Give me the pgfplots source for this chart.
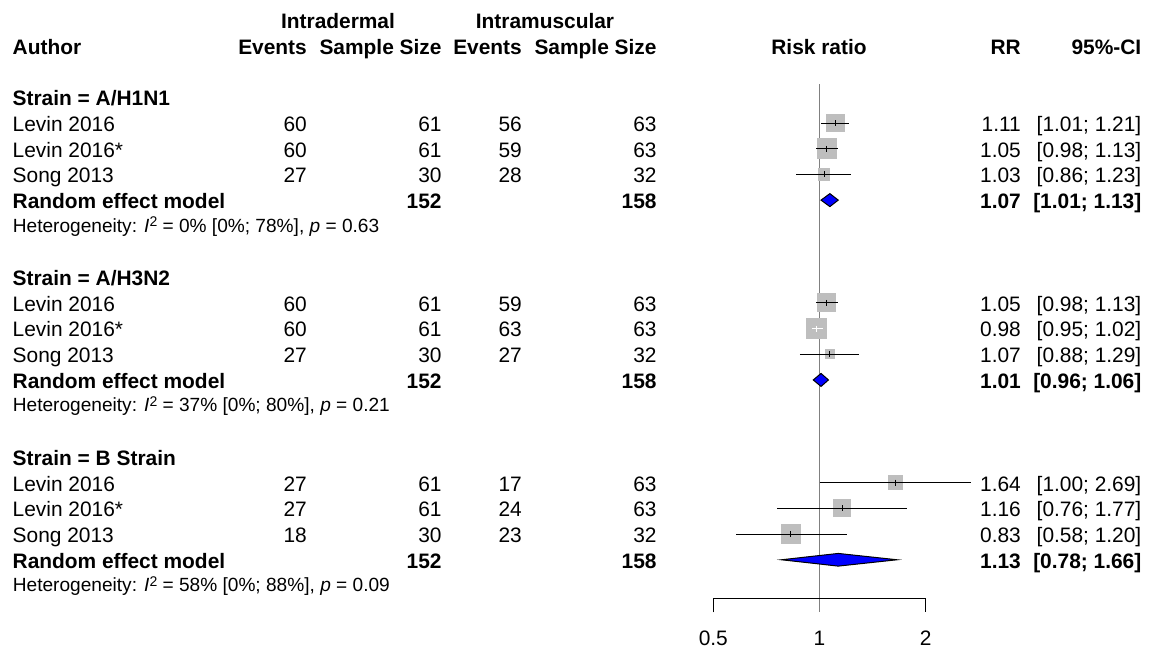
\documentclass[border=0pt]{standalone}
\usepackage{fontspec}
\setmainfont{Liberation Sans}
\usepackage{pgfplots}
\pgfplotsset{compat=1.18}
\definecolor{sqgray}{RGB}{190,190,190}
\definecolor{refgray}{RGB}{128,128,128}
\definecolor{dblue}{RGB}{0,0,255}
\newcommand\mf{\fontsize{20.9}{24}\selectfont}
\newcommand\hf{\fontsize{19.1}{22}\selectfont}
\newcommand\rb[1]{{-(54.3+25.69*(#1))*1pt}}
\newcommand\hb[1]{{-(52.2+25.69*(#1))*1pt}}
\newcommand\study[8]{%
 \node[L] at (12.5pt,\rb{#1}) {#2};
 \node[R] at (307pt,\rb{#1}) {#3};
 \node[R] at (441.7pt,\rb{#1}) {#4};
 \node[R] at (522pt,\rb{#1}) {#5};
 \node[R] at (656.7pt,\rb{#1}) {#6};
 \node[R] at (1021pt,\rb{#1}) {#7};
 \node[R] at (1141.5pt,\rb{#1}) {#8};}
\newcommand\rem[3]{%
 \node[L,font=\mf\bfseries] at (12.5pt,\rb{#1}) {Random effect model};
 \node[R,font=\mf\bfseries] at (441.7pt,\rb{#1}) {152};
 \node[R,font=\mf\bfseries] at (656.7pt,\rb{#1}) {158};
 \node[R,font=\mf\bfseries] at (1021pt,\rb{#1}) {#2};
 \node[R,font=\mf\bfseries] at (1141.5pt,\rb{#1}) {#3};}
\begin{document}
\begin{tikzpicture}[
 L/.style={inner sep=0pt, font=\mf, anchor=base west},
 R/.style={inner sep=0pt, font=\mf, anchor=base east},
 C/.style={inner sep=0pt, font=\mf, anchor=base},
 sq/.style={only marks, mark=square*, mark options={draw=sqgray, fill=sqgray, line width=0pt}},
 ci/.style={no markers, black, line width=1pt},
 ciw/.style={no markers, white, line width=1pt},
 dia/.style={no markers, draw=black, fill=dblue, line width=1pt, line join=miter}
]
\useasboundingbox (0pt,0pt) rectangle (1151pt,-650pt);
\begin{axis}[at={(713.3pt,-598.3pt)}, anchor=south west, scale only axis,
  width=212.4pt, height=514.3pt, xmode=log, xmin=0.5, xmax=2,
  ymin=-21.5, ymax=-1.48, hide axis, clip=false, clip marker paths=true]
% reference line at RR = 1
\addplot[no markers, refgray, line width=1.4pt] coordinates {(1,-1.48) (1,-22.045)};
% x axis with ticks at 0.5 and 2
\addplot[no markers, black, line width=1pt] coordinates {(0.5,-22.045) (0.5,-21.5) (2,-21.5) (2,-22.045)};
% ---- A/H1N1 ----
\addplot[sq, mark size=8.7pt] coordinates {(1.11,-3)};
\addplot[ci] coordinates {(1.01,-3) (1.21,-3)};
\addplot[ci] coordinates {(1.11,-2.885) (1.11,-3.115)};
\addplot[sq, mark size=9.85pt] coordinates {(1.05,-4)};
\addplot[ci] coordinates {(0.98,-4) (1.13,-4)};
\addplot[ci] coordinates {(1.05,-3.885) (1.05,-4.115)};
\addplot[sq, mark size=5.85pt] coordinates {(1.03,-5)};
\addplot[ci] coordinates {(0.86,-5) (1.23,-5)};
\addplot[ci] coordinates {(1.03,-4.885) (1.03,-5.115)};
\addplot[dia] coordinates {(1.01,-6) (1.07,-5.747) (1.13,-6) (1.07,-6.253)} -- cycle;
% ---- A/H3N2 ----
\addplot[sq, mark size=9pt] coordinates {(1.05,-10)};
\addplot[ci] coordinates {(0.98,-10) (1.13,-10)};
\addplot[ci] coordinates {(1.05,-9.885) (1.05,-10.115)};
\addplot[sq, mark size=10.35pt] coordinates {(0.98,-11)};
\addplot[ciw] coordinates {(0.95,-11) (1.02,-11)};
\addplot[ciw] coordinates {(0.98,-10.885) (0.98,-11.115)};
\addplot[sq, mark size=4.5pt] coordinates {(1.07,-12)};
\addplot[ci] coordinates {(0.88,-12) (1.29,-12)};
\addplot[ci] coordinates {(1.07,-11.885) (1.07,-12.115)};
\addplot[dia] coordinates {(0.96,-13) (1.01,-12.747) (1.06,-13) (1.01,-13.253)} -- cycle;
% ---- B Strain ----
\addplot[sq, mark size=7.15pt] coordinates {(1.64,-17)};
\addplot[ci] coordinates {(1.00,-17) (2.69,-17)};
\addplot[ci] coordinates {(1.64,-16.885) (1.64,-17.115)};
\addplot[sq, mark size=8.5pt] coordinates {(1.16,-18)};
\addplot[ci] coordinates {(0.76,-18) (1.77,-18)};
\addplot[ci] coordinates {(1.16,-17.885) (1.16,-18.115)};
\addplot[sq, mark size=9.35pt] coordinates {(0.83,-19)};
\addplot[ci] coordinates {(0.58,-19) (1.20,-19)};
\addplot[ci] coordinates {(0.83,-18.885) (0.83,-19.115)};
\addplot[dia] coordinates {(0.78,-20) (1.13,-19.753) (1.66,-20) (1.13,-20.247)} -- cycle;
% tick labels
\node[C] at (axis cs:0.5,-23.32) {0.5};
\node[C] at (axis cs:1,-23.32) {1};
\node[C] at (axis cs:2,-23.32) {2};
\end{axis}
% ---- header ----
\node[C,font=\mf\bfseries] at (338pt,\rb{-1}) {Intradermal};
\node[C,font=\mf\bfseries] at (545pt,\rb{-1}) {Intramuscular};
\node[L,font=\mf\bfseries] at (12.5pt,\rb{0}) {Author};
\node[R,font=\mf\bfseries] at (307pt,\rb{0}) {Events};
\node[R,font=\mf\bfseries] at (441.7pt,\rb{0}) {Sample Size};
\node[R,font=\mf\bfseries] at (522pt,\rb{0}) {Events};
\node[R,font=\mf\bfseries] at (656.7pt,\rb{0}) {Sample Size};
\node[C,font=\mf\bfseries] at (819pt,\rb{0}) {Risk ratio};
\node[R,font=\mf\bfseries] at (1021pt,\rb{0}) {RR};
\node[R,font=\mf\bfseries] at (1141.5pt,\rb{0}) {95\%-CI};
% ---- A/H1N1 ----
\node[L,font=\mf\bfseries] at (12.5pt,\rb{2}) {Strain = A/H1N1};
\study{3}{Levin 2016}{60}{61}{56}{63}{1.11}{[1.01; 1.21]}
\study{4}{Levin 2016*}{60}{61}{59}{63}{1.05}{[0.98; 1.13]}
\study{5}{Song 2013}{27}{30}{28}{32}{1.03}{[0.86; 1.23]}
\rem{6}{1.07}{[1.01; 1.13]}
\node[L,font=\hf] at (12.7pt,\hb{7}) {Heterogeneity: \textit{I}\raisebox{0.55ex}{\fontsize{14}{14}\selectfont 2} = 0\% [0\%; 78\%], \textit{p} = 0.63};
% ---- A/H3N2 ----
\node[L,font=\mf\bfseries] at (12.5pt,\rb{9}) {Strain = A/H3N2};
\study{10}{Levin 2016}{60}{61}{59}{63}{1.05}{[0.98; 1.13]}
\study{11}{Levin 2016*}{60}{61}{63}{63}{0.98}{[0.95; 1.02]}
\study{12}{Song 2013}{27}{30}{27}{32}{1.07}{[0.88; 1.29]}
\rem{13}{1.01}{[0.96; 1.06]}
\node[L,font=\hf] at (12.7pt,\hb{14}) {Heterogeneity: \textit{I}\raisebox{0.55ex}{\fontsize{14}{14}\selectfont 2} = 37\% [0\%; 80\%], \textit{p} = 0.21};
% ---- B Strain ----
\node[L,font=\mf\bfseries] at (12.5pt,\rb{16}) {Strain = B Strain};
\study{17}{Levin 2016}{27}{61}{17}{63}{1.64}{[1.00; 2.69]}
\study{18}{Levin 2016*}{27}{61}{24}{63}{1.16}{[0.76; 1.77]}
\study{19}{Song 2013}{18}{30}{23}{32}{0.83}{[0.58; 1.20]}
\rem{20}{1.13}{[0.78; 1.66]}
\node[L,font=\hf] at (12.7pt,\hb{21}) {Heterogeneity: \textit{I}\raisebox{0.55ex}{\fontsize{14}{14}\selectfont 2} = 58\% [0\%; 88\%], \textit{p} = 0.09};
\end{tikzpicture}
\end{document}
